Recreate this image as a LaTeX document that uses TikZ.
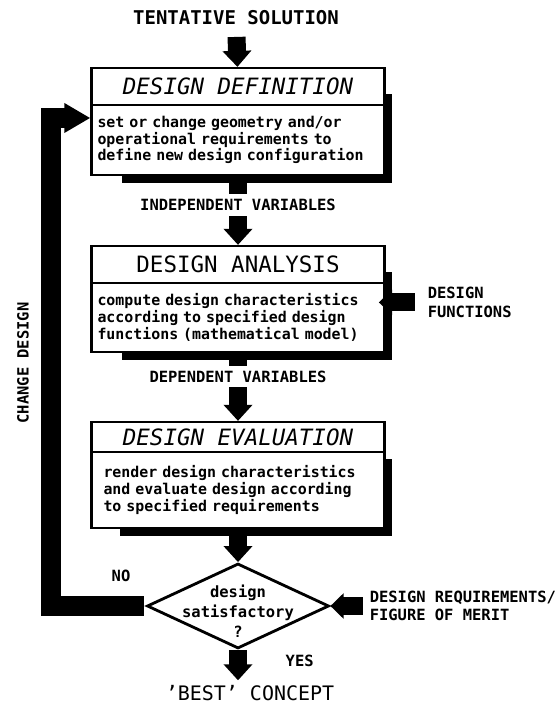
\documentclass[tikz,border=0pt]{standalone}
\usepackage{fontspec}
\setmainfont{DejaVu Sans Mono}
\usetikzlibrary{arrows.meta,shapes.geometric,backgrounds}

\begin{document}
\begin{tikzpicture}[box/.style={draw,line width=1.6pt,fill=white,minimum width=7.325cm,inner sep=0pt},
                    title/.style={box,font=\fontsize{16}{19}\selectfont},
                    ititle/.style={box,font=\fontsize{16}{19}\selectfont\itshape},
                    body/.style={box,font=\fontsize{10.6}{10.7}\selectfont\bfseries,
                                 inner xsep=0.15cm,text width=7.025cm,align=left},
                    lbl/.style={font=\fontsize{11}{13}\selectfont\bfseries},
                    decision/.style={diamond,draw,line width=2pt,minimum width=4.55cm,
                                     minimum height=2.125cm,inner sep=0pt},
                    flow/.style={line width=0.45cm,-{Triangle[width=0.7cm,length=0.4cm]}},
                    feed/.style={line width=0.45cm,-{Triangle[width=0.62cm,length=0.33cm]}},
                    back/.style={line width=0.5cm,-{Triangle[width=0.7cm,length=0.65cm]}}]

  \useasboundingbox (0,0) rectangle (13.975,17.7);

  \node[lbl,font=\fontsize{13.5}{16}\selectfont\bfseries] (tent) at (5.9,17.25) {TENTATIVE SOLUTION};

  \node[ititle,minimum height=0.925cm] (def) at (5.95,15.5375) {DESIGN DEFINITION};
  \node[body,minimum height=1.75cm] (defbody) at (5.95,14.2)
    {set or change geometry and/or\\operational requirements to\\define new design configuration};

  \node[title,minimum height=0.925cm] (ana) at (5.95,11.0875) {DESIGN ANALYSIS};
  \node[body,minimum height=1.725cm] (anabody) at (5.95,9.7625)
    {compute design characteristics\\according to specified design\\functions (mathematical model)};

  \node[ititle,minimum height=0.75cm] (eva) at (5.95,6.775) {DESIGN EVALUATION};
  \node[body,minimum height=1.9cm,inner xsep=0.3cm,text width=6.725cm] (evabody) at (5.95,5.45)
    {render design characteristics\\and evaluate design according\\to specified requirements};

  \node[decision] (dec) at (5.95,2.55) {};
  \node[font=\fontsize{11}{14.2}\selectfont\bfseries,align=center] (dectext) at (5.95,2.425)
    {design\\satisfactory\\?};

  \node[font=\fontsize{14.2}{17}\selectfont] (best) at (6.25,0.375) {'BEST' CONCEPT};

  \node[lbl,anchor=west,align=left] (fun) at (10.57,10.14) {DESIGN\\FUNCTIONS};
  \node[lbl,anchor=west,align=left] (req) at (9.12,2.55) {DESIGN REQUIREMENTS/\\FIGURE OF MERIT};
  \node[lbl,rotate=90] (chg) at (0.575,8.625) {CHANGE DESIGN};
  \coordinate (turn) at (1.275,2.55);

  % box shadows
  \begin{scope}[on background layer]
    \fill ([shift={(0.8,-0.675)}]def.north west) rectangle ([shift={(0.15,-0.17)}]defbody.south east);
    \fill ([shift={(0.8,-0.675)}]ana.north west) rectangle ([shift={(0.15,-0.17)}]anabody.south east);
    \fill ([shift={(0.75,-0.95)}]eva.north west) rectangle ([shift={(0.15,-0.17)}]evabody.south east);
  \end{scope}

  \path
    (tent) edge[flow,shorten <=0.17cm] (def)
    (defbody) edge[flow] node[lbl,fill=white,pos=0.42] {INDEPENDENT VARIABLES} (ana)
    (anabody) edge[flow] node[lbl,fill=white,pos=0.35] {DEPENDENT VARIABLES} (eva)
    (evabody) edge[flow] (dec);

  \draw[flow] (dec.south) -- node[lbl,pos=0.35,right=0.85cm] {YES} (dec.south |- best.north);
  \draw[feed,shorten <=0.2cm,shorten >=-0.17cm] (fun.west) -- (fun.west -| anabody.east);
  \draw[feed,shorten <=0.05cm] (req.west) -- (req.west -| dec.east);
  \draw[back,shorten <=0.05cm] (dec.west) -- node[lbl,pos=0.26,above=0.25cm] {NO} (turn)
    |- ([yshift=0.55cm]defbody.west);
\end{tikzpicture}
\end{document}
